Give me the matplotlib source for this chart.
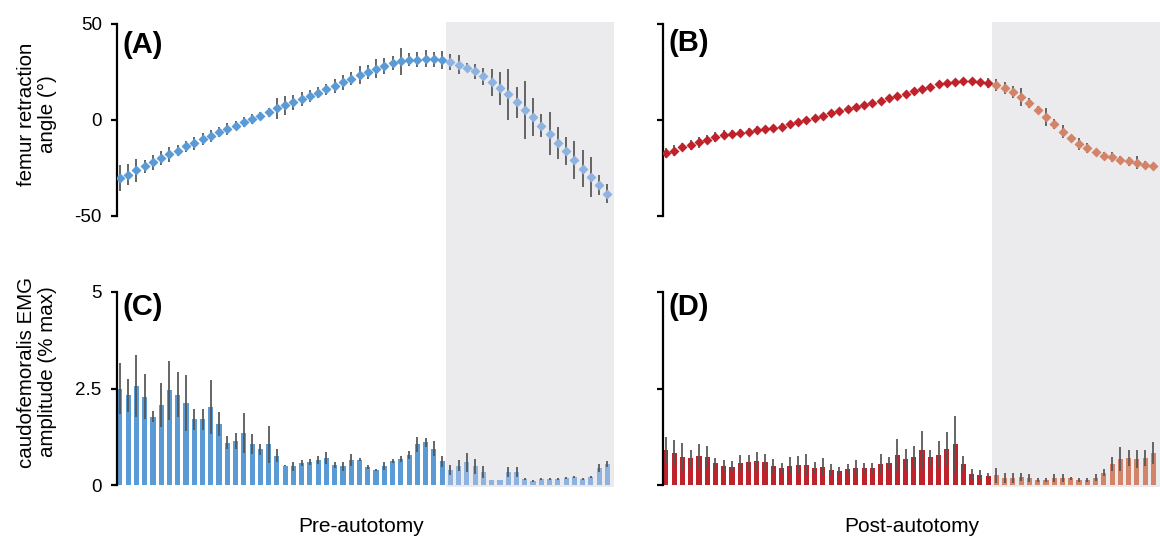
import numpy as np
import matplotlib
matplotlib.use("Agg")
import matplotlib.pyplot as plt
from matplotlib.patches import Rectangle
import matplotlib.transforms as mtransforms

plt.rcParams['font.family'] = ['Liberation Sans', 'DejaVu Sans']

# ---- data: 60 bins of the stride cycle (first 40 = stance, last 20 = swing) ----
stride_bins = np.arange(60)
n_stance = 40

angle_pre = [-30.3, -28.4, -26.3, -24.2, -22.0, -19.9, -17.8, -15.9, -13.8, -12.1,
             -10.0, -8.2, -6.4, -4.6, -2.9, -1.1, 0.6, 2.3, 4.1, 6.0,
             7.7, 9.3, 10.8, 12.6, 14.3, 16.0, 17.8, 19.7, 21.6, 23.5,
             24.9, 26.7, 28.0, 29.6, 30.5, 31.4, 31.5, 31.9, 31.7, 31.1,
             30.1, 28.9, 27.2, 25.3, 22.7, 19.7, 16.6, 13.3, 9.3, 5.3,
             1.5, -2.9, -7.2, -11.9, -16.3, -20.7, -25.3, -29.8, -34.1, -38.4]
angle_pre_err = [6.8, 5.5, 6.2, 3.6, 3.9, 3.5, 3.9, 3.0, 3.0, 3.3,
                 3.0, 3.0, 2.6, 3.0, 2.2, 2.8, 2.7, 1.9, 2.4, 5.5,
                 5.0, 3.9, 3.7, 3.0, 3.0, 2.8, 3.5, 3.9, 3.5, 4.8,
                 3.7, 5.0, 4.2, 3.8, 7.1, 3.5, 4.0, 4.5, 3.9, 4.6,
                 4.2, 5.2, 2.3, 3.9, 4.3, 7.1, 8.6, 13.2, 8.1, 15.1,
                 9.9, 6.0, 11.2, 8.3, 7.3, 9.9, 9.6, 10.4, 5.2, 4.9]

angle_post = [-17.1, -15.9, -14.2, -12.9, -11.6, -10.2, -9.0, -7.7, -7.2, -6.7,
              -6.0, -5.1, -4.6, -4.1, -3.4, -2.3, -1.1, 0.1, 1.1, 2.3,
              3.5, 4.6, 5.5, 6.7, 7.9, 9.0, 10.0, 11.2, 12.4, 13.6,
              15.0, 16.3, 17.3, 18.5, 19.2, 19.7, 20.1, 20.1, 19.7, 19.2,
              18.3, 16.6, 14.5, 11.9, 8.8, 5.4, 1.5, -2.3, -6.0, -9.3,
              -12.4, -14.7, -16.8, -18.5, -19.4, -20.6, -21.6, -22.3, -23.2, -23.7]
angle_post_err = [2.5, 2.8, 2.2, 2.5, 2.8, 2.5, 2.6, 2.3, 2.0, 1.8,
                  1.8, 1.8, 1.6, 1.6, 1.8, 1.8, 1.8, 1.6, 1.5, 1.5,
                  1.5, 1.5, 1.5, 1.5, 1.5, 1.5, 1.5, 1.5, 1.5, 1.5,
                  1.5, 1.5, 1.5, 1.5, 1.5, 1.5, 1.5, 1.5, 1.8, 2.5,
                  3.2, 3.2, 3.2, 4.8, 2.4, 2.0, 4.8, 2.6, 3.6, 1.5,
                  3.2, 2.6, 1.5, 2.0, 2.6, 1.8, 2.2, 3.4, 1.6, 1.0]

emg_pre = [2.49, 2.32, 2.57, 2.29, 1.77, 2.07, 2.45, 2.34, 2.13, 1.70,
           1.70, 2.01, 1.57, 1.09, 1.13, 1.35, 1.07, 0.92, 1.05, 0.76,
           0.50, 0.48, 0.56, 0.60, 0.65, 0.70, 0.52, 0.48, 0.65, 0.66,
           0.47, 0.39, 0.50, 0.63, 0.67, 0.78, 1.05, 1.11, 0.94, 0.61,
           0.39, 0.50, 0.59, 0.48, 0.34, 0.13, 0.13, 0.34, 0.34, 0.15,
           0.10, 0.15, 0.15, 0.15, 0.19, 0.21, 0.16, 0.21, 0.44, 0.54]
emg_pre_err = [0.66, 0.42, 0.80, 0.59, 0.15, 0.57, 0.76, 0.58, 0.73, 0.27,
               0.27, 0.70, 0.31, 0.17, 0.21, 0.52, 0.26, 0.15, 0.49, 0.17,
               0.02, 0.11, 0.08, 0.07, 0.10, 0.16, 0.07, 0.11, 0.15, 0.05,
               0.06, 0.03, 0.10, 0.05, 0.08, 0.10, 0.20, 0.12, 0.20, 0.15,
               0.13, 0.15, 0.25, 0.19, 0.15, 0.00, 0.00, 0.13, 0.13, 0.03,
               0.03, 0.03, 0.03, 0.03, 0.03, 0.03, 0.03, 0.03, 0.10, 0.07]

emg_post = [0.91, 0.83, 0.72, 0.69, 0.74, 0.73, 0.56, 0.50, 0.47, 0.57,
            0.59, 0.61, 0.60, 0.48, 0.43, 0.50, 0.52, 0.52, 0.45, 0.47,
            0.39, 0.35, 0.41, 0.44, 0.44, 0.45, 0.54, 0.57, 0.78, 0.67,
            0.73, 0.91, 0.72, 0.78, 0.94, 1.05, 0.54, 0.28, 0.25, 0.24,
            0.25, 0.19, 0.19, 0.21, 0.19, 0.13, 0.13, 0.18, 0.18, 0.17,
            0.13, 0.13, 0.19, 0.32, 0.54, 0.67, 0.70, 0.67, 0.70, 0.83]
emg_post_err = [0.33, 0.33, 0.36, 0.22, 0.33, 0.28, 0.15, 0.14, 0.14, 0.21,
                0.20, 0.25, 0.20, 0.19, 0.14, 0.22, 0.23, 0.28, 0.15, 0.22,
                0.15, 0.11, 0.13, 0.20, 0.14, 0.13, 0.26, 0.15, 0.41, 0.26,
                0.28, 0.50, 0.19, 0.35, 0.44, 0.73, 0.20, 0.13, 0.13, 0.07,
                0.20, 0.13, 0.13, 0.11, 0.10, 0.05, 0.05, 0.10, 0.10, 0.05,
                0.05, 0.05, 0.09, 0.09, 0.19, 0.31, 0.21, 0.23, 0.21, 0.28]

angle_ticks = [-50, 0, 50]
emg_ticks = [0, 2.5, 5]
emg_ticklabels = ['0', '2.5', '5']

# ---- styles ----
BLUE, BLUE_L = '#5b9bd5', '#8fb3e0'
RED, RED_L = '#c0222c', '#d28368'
ERR = '#555555'
SHADE = '#ebebee'

W, H = 1160, 541
fig = plt.figure(figsize=(W / 100, H / 100), dpi=100)

def px_axes(left, top, right, bottom):
    return fig.add_axes([left / W, 1 - bottom / H, (right - left) / W, (bottom - top) / H])

axA = px_axes(117, 24, 614, 216)
axB = px_axes(663, 24, 1160, 216)
axC = px_axes(117, 292, 614, 485)
axD = px_axes(663, 292, 1160, 485)

x = stride_bins
st = x < n_stance
sw = ~st
XLIM = (-0.35, 59.8)
SWING_START = 39.5

def style(ax, ticks, labels, show):
    ax.set_facecolor('none')
    for s in ['top', 'right', 'bottom']:
        ax.spines[s].set_visible(False)
    ax.spines['left'].set_linewidth(1.6)
    ax.set_xlim(*XLIM)
    ax.set_xticks([])
    ax.set_yticks(ticks)
    ax.set_ylim(ticks[0], ticks[-1])
    if show:
        ax.set_yticklabels(labels)
    else:
        ax.set_yticklabels([])
    ax.tick_params(axis='y', length=4, width=1.6, pad=7, labelsize=13.5, direction='out')

def shade(ax_top):
    tr = mtransforms.blended_transform_factory(ax_top.transData, fig.transFigure)
    y0 = 1 - 487 / H
    y1 = 1 - 22 / H
    r = Rectangle((SWING_START, y0), XLIM[1] - SWING_START, y1 - y0, transform=tr,
                  facecolor=SHADE, edgecolor='none', zorder=-10)
    fig.patches.append(r)

shade(axA)
shade(axB)

def angle_panel(ax, vals, errs, c1, c2):
    v = np.array(vals); e = np.array(errs)
    ax.errorbar(x, v, yerr=e, fmt='none', ecolor=ERR, elinewidth=1.4, capsize=0, zorder=2, alpha=0.9)
    ax.plot(x[st], v[st], 'D', color=c1, ms=5.5, mec='none', zorder=3)
    ax.plot(x[sw], v[sw], 'D', color=c2, ms=5.5, mec='none', zorder=3)

def emg_panel(ax, vals, errs, c1, c2):
    v = np.array(vals); e = np.array(errs)
    ax.bar(x[st], v[st], width=0.62, color=c1, zorder=2)
    ax.bar(x[sw], v[sw], width=0.62, color=c2, zorder=2)
    ax.errorbar(x, v, yerr=e, fmt='none', ecolor=ERR, elinewidth=1.4, capsize=0, zorder=3, alpha=0.9)

angle_panel(axA, angle_pre, angle_pre_err, BLUE, BLUE_L)
angle_panel(axB, angle_post, angle_post_err, RED, RED_L)
emg_panel(axC, emg_pre, emg_pre_err, BLUE, BLUE_L)
emg_panel(axD, emg_post, emg_post_err, RED, RED_L)

style(axA, angle_ticks, [str(t) for t in angle_ticks], True)
style(axB, angle_ticks, [], False)
style(axC, emg_ticks, emg_ticklabels, True)
style(axD, emg_ticks, [], False)

for ax, lab, yy in [(axA, '(A)', 0.89), (axB, '(B)', 0.90), (axC, '(C)', 0.92), (axD, '(D)', 0.92)]:
    ax.text(0.012, yy, lab, transform=ax.transAxes, fontsize=21, fontweight='bold',
            ha='left', va='center')

fig.text(37 / W, 1 - 114 / H, 'femur retraction\nangle (°)', rotation=90,
         ha='center', va='center', multialignment='center', fontsize=14.8, linespacing=1.12)
fig.text(37 / W, 1 - 372 / H, 'caudofemoralis EMG\namplitude (% max)', rotation=90,
         ha='center', va='center', multialignment='center', fontsize=14.8, linespacing=1.12)
fig.text(361 / W, 1 - 527 / H, 'Pre-autotomy', ha='center', va='center', fontsize=15)
fig.text(912 / W, 1 - 527 / H, 'Post-autotomy', ha='center', va='center', fontsize=15)

fig.savefig('out.png', dpi=100, facecolor='white')
